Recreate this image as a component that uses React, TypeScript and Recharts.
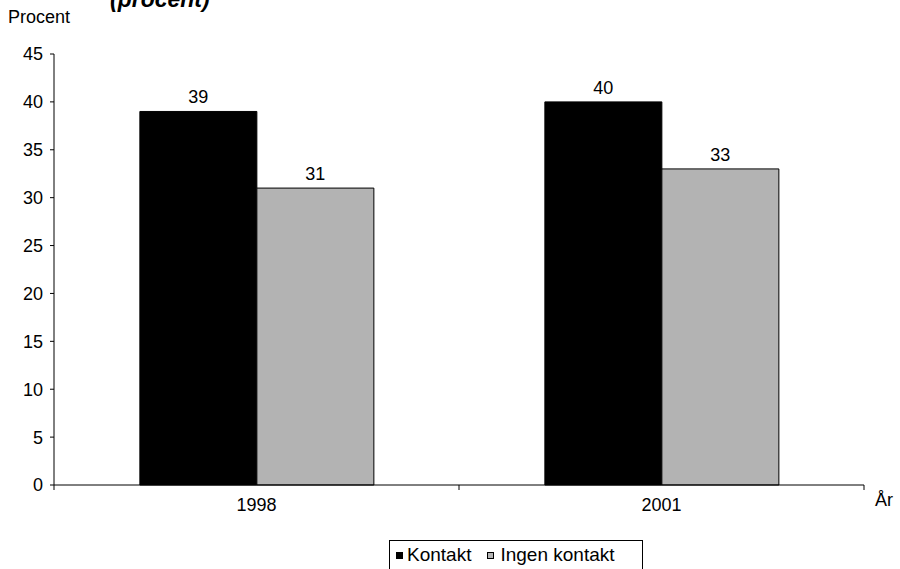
import { BarChart, Bar, XAxis, YAxis, Legend, LabelList } from 'recharts'

const years = ['1998', '2001']
const kontakt = [39, 40]
const ingenKontakt = [31, 33]
const yTicks = [0, 5, 10, 15, 20, 25, 30, 35, 40, 45]

const data = years.map((year, i) => ({ year, kontakt: kontakt[i], ingen: ingenKontakt[i] }))

const FONT = '"Liberation Sans", Arial, sans-serif'
const GREY = '#b3b3b3'
const X_TICK_SIZE = 5
const X_TICK_MARGIN = 8

function YearTick(props: any) {
  const { x, y, payload, index } = props
  const axisY = y - X_TICK_SIZE - X_TICK_MARGIN
  const half = payload?.offset ?? 0
  return (
    <g>
      <text x={x} y={y} dy="0.71em" textAnchor="middle" fontFamily={FONT} fontSize={18} fill="#000">
        {payload.value}
      </text>
      <line x1={x + half} x2={x + half} y1={axisY} y2={axisY + X_TICK_SIZE} stroke="#000" />
      {index === 0 && <line x1={x - half} x2={x - half} y1={axisY} y2={axisY + X_TICK_SIZE} stroke="#000" />}
    </g>
  )
}

function LegendBox() {
  const square = (fill: string) => ({
    display: 'inline-block',
    width: 5,
    height: 5,
    background: fill,
    border: '1px solid #000',
    verticalAlign: '2px',
  })
  return (
    <div
      style={{
        border: '1px solid #000',
        width: 246,
        height: 40,
        paddingTop: 3,
        paddingLeft: 6,
        boxSizing: 'content-box',
        fontFamily: FONT,
        fontSize: 19,
        lineHeight: '22px',
        color: '#000',
        whiteSpace: 'nowrap',
        background: '#fff',
      }}
    >
      <span style={square('#000')} />
      <span style={{ marginLeft: 4 }}>Kontakt</span>
      <span style={{ ...square(GREY), marginLeft: 16 }} />
      <span style={{ marginLeft: 6 }}>Ingen kontakt</span>
    </div>
  )
}

export default function App() {
  return (
    <div style={{ position: 'absolute', left: 0, top: 0, width: 900, height: 569, background: '#fff' }}>
      <BarChart
        width={900}
        height={569}
        data={data}
        margin={{ top: 54, right: 36, left: 0, bottom: 54 }}
        barCategoryGap="21.2%"
        barGap={0}
      >
        <XAxis
          dataKey="year"
          height={30}
          tickLine={false}
          tickSize={X_TICK_SIZE}
          tickMargin={X_TICK_MARGIN}
          axisLine={{ stroke: '#000' }}
          tick={<YearTick />}
          label={{ value: 'År', position: 'right', offset: 11, fill: '#000', fontSize: 18, fontFamily: FONT }}
        />
        <YAxis
          domain={[0, 45]}
          ticks={yTicks}
          width={54}
          tickSize={4}
          tickMargin={7}
          axisLine={{ stroke: '#000' }}
          tickLine={{ stroke: '#000' }}
          tick={{ fill: '#000', fontSize: 18, fontFamily: FONT }}
        />
        <Legend
          layout="horizontal"
          verticalAlign="middle"
          align="center"
          content={<LegendBox />}
          wrapperStyle={{ left: 389, top: 540, width: 'auto' }}
        />
        <Bar dataKey="kontakt" name="Kontakt" fill="#000" stroke="#000" isAnimationActive={false}>
          <LabelList dataKey="kontakt" position="top" offset={8} fill="#000" fontSize={18} fontFamily={FONT} />
        </Bar>
        <Bar dataKey="ingen" name="Ingen kontakt" fill={GREY} stroke="#000" isAnimationActive={false}>
          <LabelList dataKey="ingen" position="top" offset={8} fill="#000" fontSize={18} fontFamily={FONT} />
        </Bar>
      </BarChart>
      <svg width={900} height={40} style={{ position: 'absolute', left: 0, top: 0, pointerEvents: 'none' }}>
        <text x={110} y={7} fontFamily={FONT} fontSize={23} fontWeight="bold" fontStyle="italic" fill="#000">
          (procent)
        </text>
        <text x={8} y={23} fontFamily={FONT} fontSize={18} fill="#000">
          Procent
        </text>
      </svg>
    </div>
  )
}
